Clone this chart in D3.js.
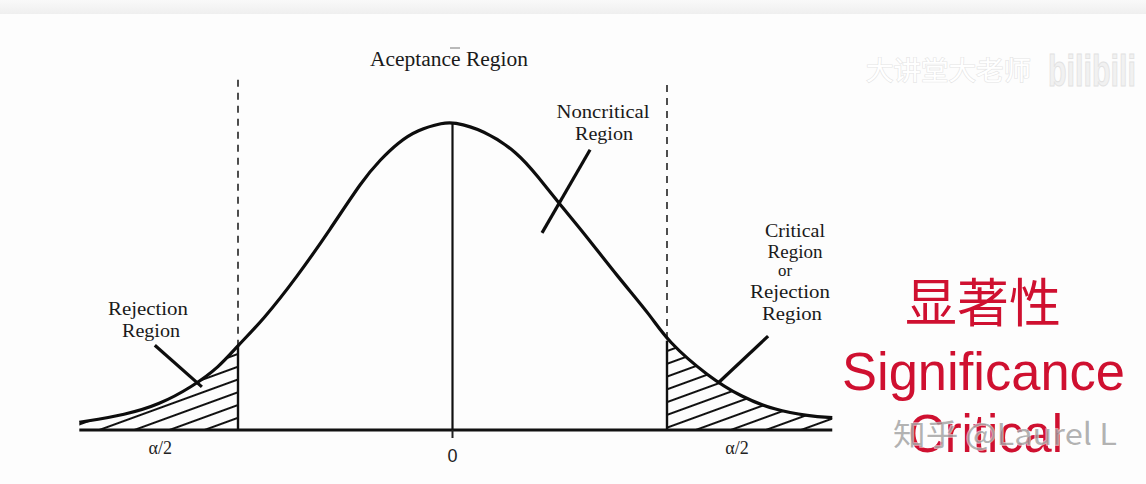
<!DOCTYPE html>
<html>
<head>
<meta charset="utf-8">
<script src="https://cdn.jsdelivr.net/npm/d3@7"></script>
<style>
  html, body { margin: 0; padding: 0; background: #fdfdfd; }
  svg { display: block; }
</style>
</head>
<body>
<svg id="chart" width="1146" height="484"></svg>
<script>
// ---- data ----
const zValues = [-3.41, -2.98, -2.68, -2.38, -2.13, -1.96, -1.73, -1.42, -1.12, -0.82, -0.66, -0.50, -0.32, -0.08, 0,
                 0.28, 0.60, 0.78, 0.97, 1.20, 1.51, 1.82, 1.96, 2.34, 2.64, 2.94, 3.26, 3.47];
const density = [0.010, 0.020, 0.033, 0.056, 0.082, 0.110, 0.143, 0.199, 0.260, 0.325, 0.351, 0.373, 0.390, 0.399, 0.400,
                 0.390, 0.360, 0.329, 0.295, 0.256, 0.199, 0.147, 0.116, 0.069, 0.043, 0.026, 0.018, 0.016];
const criticalZ = [-1.96, 1.96];
const tickZ = [-2.67, 0, 2.60];
const tickLabels = ["α/2", "0", "α/2"];

const W = 1146, H = 484;
const svg = d3.select("#chart");

// scales
const x = d3.scaleLinear().domain([-1.96, 1.96]).range([238, 667]);
const y = d3.scaleLinear().domain([0, 0.4]).range([430, 122]);

const pts = zValues.map((z, i) => ({ z, d: density[i] }));
const dAt = z => pts.find(p => Math.abs(p.z - z) < 1e-9).d;

// top gray band
const defs = svg.append("defs");
const g1 = defs.append("linearGradient").attr("id", "topband").attr("x1", 0).attr("x2", 0).attr("y1", 0).attr("y2", 1);
g1.append("stop").attr("offset", "0%").attr("stop-color", "#f9f9f9");
g1.append("stop").attr("offset", "100%").attr("stop-color", "#efefef");
svg.append("rect").attr("x", 0).attr("y", 0).attr("width", W).attr("height", 14).attr("fill", "url(#topband)");

// hatch pattern
const pat = defs.append("pattern").attr("id", "hatch").attr("patternUnits", "userSpaceOnUse")
  .attr("width", 12).attr("height", 12).attr("patternTransform", "rotate(-20)");
pat.append("line").attr("x1", -2).attr("x2", 14).attr("y1", 6).attr("y2", 6)
  .attr("stroke", "#111").attr("stroke-width", 2);

// clip paths for tails
const xmin = x(zValues[0]), xmax = x(zValues[zValues.length - 1]);
defs.append("clipPath").attr("id", "clipL").append("rect")
  .attr("x", xmin - 2).attr("y", 0).attr("width", x(criticalZ[0]) - xmin + 2).attr("height", y(0));
defs.append("clipPath").attr("id", "clipR").append("rect")
  .attr("x", x(criticalZ[1])).attr("y", 0).attr("width", xmax - x(criticalZ[1]) + 2).attr("height", y(0));

const area = d3.area().x(p => x(p.z)).y0(y(0)).y1(p => y(p.d)).curve(d3.curveBasis);
const line = d3.line().x(p => x(p.z)).y(p => y(p.d)).curve(d3.curveBasis);

svg.append("path").datum(pts).attr("d", area).attr("fill", "url(#hatch)").attr("clip-path", "url(#clipL)");
svg.append("path").datum(pts).attr("d", area).attr("fill", "url(#hatch)").attr("clip-path", "url(#clipR)");

// dashed critical lines (above curve) and solid part under curve
criticalZ.forEach((c, i) => {
  svg.append("line")
    .attr("x1", x(c)).attr("x2", x(c))
    .attr("y1", y(i === 0 ? 0.455 : 0.448)).attr("y2", y(dAt(c)))
    .attr("stroke", "#222").attr("stroke-width", 1.6).attr("stroke-dasharray", "7,6");
  svg.append("line")
    .attr("x1", x(c)).attr("x2", x(c))
    .attr("y1", y(dAt(c))).attr("y2", y(0))
    .attr("stroke", "#111").attr("stroke-width", 2.4);
});

// center line
svg.append("line").attr("x1", x(0)).attr("x2", x(0)).attr("y1", y(0.399)).attr("y2", y(0))
  .attr("stroke", "#111").attr("stroke-width", 2.2);

// curve
svg.append("path").datum(pts).attr("d", line).attr("fill", "none")
  .attr("stroke", "#0d0d0d").attr("stroke-width", 3.2);

// baseline axis
svg.append("line").attr("x1", xmin).attr("x2", xmax).attr("y1", y(0)).attr("y2", y(0))
  .attr("stroke", "#111").attr("stroke-width", 3.2);
svg.append("line").attr("x1", x(0)).attr("x2", x(0)).attr("y1", y(0)).attr("y2", y(0) + 8)
  .attr("stroke", "#222").attr("stroke-width", 2);

// tick labels
const serif = "'Liberation Serif', 'Times New Roman', serif";
svg.selectAll(".tick").data(tickLabels).enter().append("text")
  .attr("x", (d, i) => x(tickZ[i]))
  .attr("y", (d, i) => i === 1 ? 462 : 454)
  .attr("text-anchor", "middle")
  .attr("font-family", (d, i) => i === 1 ? "'Liberation Sans', Arial, sans-serif" : serif)
  .attr("font-size", 18)
  .attr("fill", "#222")
  .text(d => d);

// pointer lines (data coordinates)
const pointers = [
  [[-2.72, 0.110], [-2.29, 0.056]],
  [[1.257, 0.364], [0.818, 0.256]],
  [[2.884, 0.122], [2.427, 0.061]]
];
pointers.forEach(p => {
  svg.append("line")
    .attr("x1", x(p[0][0])).attr("y1", y(p[0][1]))
    .attr("x2", x(p[1][0])).attr("y2", y(p[1][1]))
    .attr("stroke", "#0d0d0d").attr("stroke-width", 3.2);
});

// annotations
function label(txt, cx, by, w, size) {
  svg.append("text").attr("x", cx).attr("y", by).attr("text-anchor", "middle")
    .attr("font-family", serif).attr("font-size", size || 19).attr("fill", "#1a1a1a")
    .attr("textLength", w).attr("lengthAdjust", "spacingAndGlyphs")
    .text(txt);
}
label("Aceptance Region", 449, 66, 158, 20);
svg.append("line").attr("x1", 450).attr("x2", 460).attr("y1", 48).attr("y2", 48).attr("stroke", "#777").attr("stroke-width", 1);
label("Noncritical", 603, 118, 93);
label("Region", 604, 140, 58);
label("Critical", 795, 237, 60, 18);
label("Region", 795, 258, 55, 18);
label("or", 785, 276, 14, 16);
label("Rejection", 790, 298, 80, 18);
label("Region", 792, 320, 60, 18);
label("Rejection", 148, 315, 80);
label("Region", 151, 337, 58);

// red annotations
const red = "#cf1030";
svg.append("text").attr("x", 983).attr("y", 322).attr("text-anchor", "middle")
  .attr("font-family", "'Noto Sans CJK SC', sans-serif").attr("font-size", 52)
  .attr("fill", red).text("显著性");
svg.append("text").attr("x", 842).attr("y", 390)
  .attr("font-family", "'Liberation Sans', Arial, sans-serif").attr("font-size", 53)
  .attr("textLength", 283).attr("lengthAdjust", "spacingAndGlyphs")
  .attr("fill", red).text("Significance");
svg.append("text").attr("x", 908).attr("y", 452)
  .attr("font-family", "'Liberation Sans', Arial, sans-serif").attr("font-size", 53)
  .attr("textLength", 155).attr("lengthAdjust", "spacingAndGlyphs")
  .attr("fill", red).text("Critical");

// watermark bottom (overlaps "Critical" as in the source)
svg.append("text").attr("x", 893).attr("y", 445)
  .attr("font-family", "'Noto Sans CJK SC', sans-serif").attr("font-size", 30)
  .attr("textLength", 224).attr("lengthAdjust", "spacingAndGlyphs")
  .attr("fill", "#9a9a9a").attr("fill-opacity", 0.75)
  .attr("stroke", "#ffffff").attr("stroke-opacity", 0.6).attr("stroke-width", 1.5)
  .attr("paint-order", "stroke")
  .text("知乎 @Laurel L");

// watermark top right
svg.append("text").attr("x", 866).attr("y", 80)
  .attr("font-family", "'Noto Sans CJK SC', sans-serif").attr("font-size", 26)
  .attr("textLength", 165).attr("lengthAdjust", "spacingAndGlyphs")
  .attr("fill", "#ffffff").attr("stroke", "#e4e4e4").attr("stroke-width", 1.2)
  .attr("paint-order", "stroke")
  .text("大讲堂大老师");
svg.append("text").attr("x", 1048).attr("y", 86)
  .attr("font-family", "'Liberation Sans', Arial, sans-serif").attr("font-size", 44).attr("font-weight", "bold")
  .attr("textLength", 88).attr("lengthAdjust", "spacingAndGlyphs")
  .attr("fill", "#f1f1f1").attr("stroke", "#e2e2e2").attr("stroke-width", 1)
  .text("bilibili");
</script>
</body>
</html>
